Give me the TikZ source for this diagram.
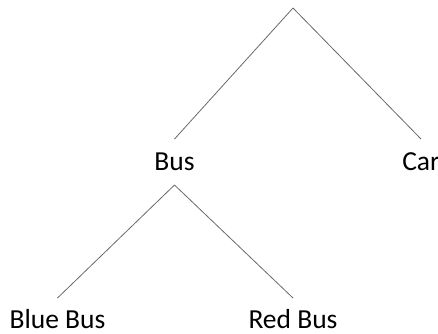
\documentclass[tikz,border=0pt]{standalone}
\usepackage{fontspec}
\setmainfont{Carlito}
\begin{document}
\begin{tikzpicture}[x=1pt,y=-1pt,
  label/.style={inner sep=0pt, outer sep=0pt, anchor=base,
    text height=31pt, text depth=15pt, font=\fontsize{27.5}{31}\selectfont},
  leaf/.style={label, text height=30pt, text depth=2pt},
  branch/.style={draw={rgb,255:red,105;green,105;blue,105}, line width=0.8pt}]
  \useasboundingbox (0,0) rectangle (438,333);
  \coordinate (root) at (293,8);
  \node[label] (bus) at (174.5,170) {Bus};
  \node[label] (car) at (421,170) {Car};
  \node[leaf] (blue) at (57.5,328) {Blue Bus};
  \node[leaf] (red) at (293,328) {Red Bus};
  \draw[branch] (root) -- (bus.north);
  \draw[branch] (root) -- (car.north);
  \draw[branch] (bus.south) -- (blue.north);
  \draw[branch] (bus.south) -- (red.north);
\end{tikzpicture}
\end{document}
